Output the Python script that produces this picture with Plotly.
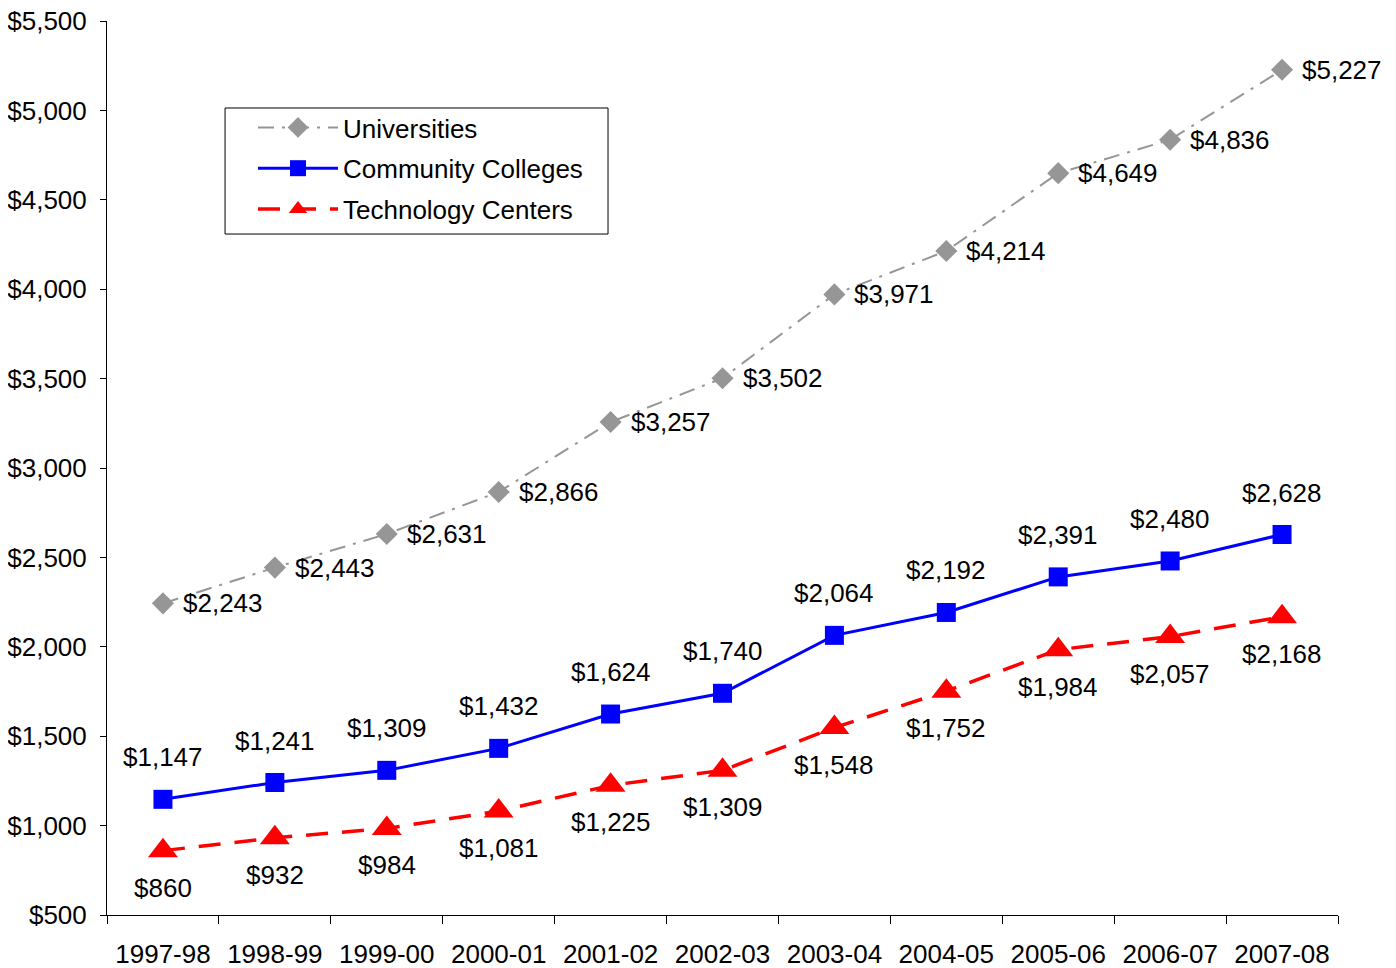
import plotly.graph_objects as go

years = ["1997-98", "1998-99", "1999-00", "2000-01", "2001-02", "2002-03",
         "2003-04", "2004-05", "2005-06", "2006-07", "2007-08"]
universities = [2243, 2443, 2631, 2866, 3257, 3502, 3971, 4214, 4649, 4836, 5227]
community_colleges = [1147, 1241, 1309, 1432, 1624, 1740, 2064, 2192, 2391, 2480, 2628]
technology_centers = [860, 932, 984, 1081, 1225, 1309, 1548, 1752, 1984, 2057, 2168]

FONT = "Liberation Sans, Arial, sans-serif"
FS = 26

fig = go.Figure()

fig.add_trace(go.Scatter(
    x=years, y=universities, name="Universities", mode="lines+markers",
    legendgroup="u",
    line=dict(color="#969696", width=2, dash="16px,8px,3px,8px"),
    marker=dict(symbol="diamond", size=17, color="#969696"),
))
fig.add_trace(go.Scatter(
    x=years, y=community_colleges, name="Community Colleges", mode="lines+markers",
    legendgroup="c",
    line=dict(color="#0000FF", width=3),
    marker=dict(symbol="square", size=19, color="#0000FF"),
))
fig.add_trace(go.Scatter(
    x=years, y=technology_centers, name="Technology Centers", mode="lines+markers",
    legendgroup="t",
    line=dict(color="#FF0000", width=3.5, dash="22px,14px"),
    marker=dict(symbol="triangle-up", size=26, color="#FF0000"),
))

# data labels
annotations = []
for x, v in zip(years, universities):
    annotations.append(dict(x=x, y=v, text=f"${v:,}", showarrow=False,
                            xanchor="left", yanchor="middle", xshift=18))
for x, v in zip(years, community_colleges):
    annotations.append(dict(x=x, y=v, text=f"${v:,}", showarrow=False,
                            xanchor="center", yanchor="middle", yshift=42))
for x, v in zip(years, technology_centers):
    annotations.append(dict(x=x, y=v, text=f"${v:,}", showarrow=False,
                            xanchor="center", yanchor="middle", yshift=-37))
for a in annotations:
    a["font"] = dict(family=FONT, size=FS, color="black")

# legend frame
shapes = [dict(type="rect", xref="paper", yref="paper",
               x0=0.0959, x1=0.407, y0=0.7617, y1=0.9027,
               line=dict(color="black", width=1), fillcolor="white", layer="below")]

# the page body adds an 8px offset, so margins are shifted accordingly
fig.update_layout(
    width=1396, height=968,
    margin=dict(l=99, r=66, t=13, b=61, autoexpand=False),
    plot_bgcolor="rgba(0,0,0,0)", paper_bgcolor="white",
    font=dict(family=FONT, size=FS, color="black"),
    annotations=annotations,
    shapes=shapes,
    showlegend=True,
    legend=dict(
        x=(253 - 107) / 1231, y=(915 - 104) / 894, xanchor="left", yanchor="top",
        borderwidth=0, bgcolor="rgba(0,0,0,0)",
        font=dict(family=FONT, size=FS), itemwidth=80,
        tracegroupgap=4,
    ),
    xaxis=dict(
        type="category", range=[-0.5, 10.5], automargin=False,
        showline=True, linecolor="black", linewidth=1,
        ticks="outside", ticklen=8, tickcolor="black", tickson="boundaries",
        ticklabelstandoff=16, ticklabeloverflow="allow",
        showgrid=False, zeroline=False,
    ),
    yaxis=dict(
        range=[500, 5500], dtick=500, tickprefix="$", tickformat=",",
        automargin=False,
        showline=True, linecolor="black", linewidth=1,
        ticks="outside", ticklen=6, tickcolor="black",
        ticklabelstandoff=8, ticklabeloverflow="allow",
        showgrid=False, zeroline=False,
    ),
)

fig.write_html("out.html")
